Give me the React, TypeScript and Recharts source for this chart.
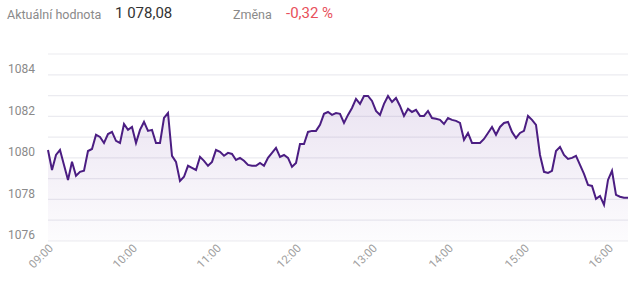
import React from 'react';
import { AreaChart, Area, XAxis, YAxis, CartesianGrid } from 'recharts';

// index value samples across the trading session (09:00 - 16:20)
const values: number[] = [
  1080.38, 1079.42, 1080.14, 1080.38, 1079.66, 1078.94, 1079.81, 1079.14, 1079.33, 1079.38,
  1080.33, 1080.43, 1081.11, 1081.01, 1080.72, 1081.15, 1081.25, 1080.82, 1080.72, 1081.63,
  1081.35, 1081.49, 1080.72, 1081.35, 1081.73, 1081.30, 1081.35, 1080.72, 1080.72, 1081.92,
  1082.16, 1080.10, 1079.81, 1078.89, 1079.09, 1079.62, 1079.52, 1079.42, 1080.05, 1079.86,
  1079.62, 1079.81, 1080.38, 1080.29, 1080.10, 1080.24, 1080.19, 1079.90, 1080.00, 1079.86,
  1079.66, 1079.62, 1079.62, 1079.76, 1079.62, 1080.00, 1080.24, 1080.48, 1080.05, 1080.14,
  1080.00, 1079.57, 1079.76, 1080.67, 1080.67, 1081.25, 1081.30, 1081.30, 1081.59, 1082.12,
  1082.21, 1082.07, 1082.16, 1082.12, 1081.68, 1082.07, 1082.40, 1082.84, 1082.60, 1082.98,
  1082.98, 1082.74, 1082.26, 1082.07, 1082.60, 1082.98, 1082.69, 1082.88, 1082.50, 1082.02,
  1082.36, 1082.21, 1082.31, 1082.02, 1082.02, 1082.26, 1081.92, 1081.88, 1081.83, 1081.63,
  1081.92, 1081.83, 1081.78, 1081.68, 1080.87, 1081.20, 1080.72, 1080.72, 1080.72, 1080.91,
  1081.20, 1081.49, 1081.11, 1081.49, 1081.68, 1081.73, 1081.25, 1080.96, 1081.20, 1081.30,
  1082.02, 1081.83, 1081.59, 1080.14, 1079.33, 1079.28, 1079.38, 1080.33, 1080.53, 1080.14,
  1079.95, 1080.00, 1080.10, 1079.66, 1079.23, 1078.70, 1078.65, 1078.03, 1078.17, 1077.74,
  1078.94, 1079.38, 1078.22, 1078.13, 1078.08, 1078.08,
];

const hourTickIndex: number[] = [0, 21, 42, 62, 81, 100, 119, 140];
const hourLabels: string[] = ['09:00', '10:00', '11:00', '12:00', '13:00', '14:00', '15:00', '16:00'];

const yGridTicks: number[] = [1076, 1077, 1078, 1079, 1080, 1081, 1082, 1083, 1084, 1085];
const yLabelTicks: number[] = [1076, 1078, 1080, 1082, 1084];

const currentValueLabel = 'Aktuální hodnota';
const currentValue = '1 078,08';
const changeLabel = 'Změna';
const changeValue = '-0,32 %';

const data = values.map((v, i) => ({ i, v }));

const FONT = 'Roboto, "Noto Sans", Arial, sans-serif';

const YTick = (props: any) => {
  const { y, payload } = props;
  if (!yLabelTicks.includes(payload.value)) return <g />;
  return (
    <text x={8} y={y - 6} dy="0.35em" fill="#8a8a8a" fontSize={12} fontFamily={FONT} textAnchor="start">
      {payload.value}
    </text>
  );
};

const XTick = (props: any) => {
  const { x, y, payload } = props;
  const k = hourTickIndex.indexOf(payload.value);
  const label = k >= 0 ? hourLabels[k] : '';
  const tx = x + 3;
  const ty = y - 3;
  return (
    <text
      x={tx}
      y={ty}
      dy="0.35em"
      transform={`rotate(-45 ${tx} ${ty})`}
      textAnchor="end"
      fill="#a0a0a0"
      fontSize={11.5}
      fontFamily={FONT}
    >
      {label}
    </text>
  );
};

export default function App() {
  return (
    <div
      style={{
        position: 'absolute',
        left: 0,
        top: 0,
        width: 640,
        height: 294,
        background: '#fff',
        fontFamily: FONT,
        overflow: 'hidden',
      }}
    >
      <span style={{ position: 'absolute', left: 7, top: 7, fontSize: 12.5, color: '#8a8a8a', whiteSpace: 'nowrap' }}>
        {currentValueLabel}
      </span>
      <span style={{ position: 'absolute', left: 115, top: 4, fontSize: 15, color: '#333', whiteSpace: 'nowrap' }}>
        {currentValue}
      </span>
      <span style={{ position: 'absolute', left: 233, top: 7, fontSize: 12.5, color: '#8a8a8a', whiteSpace: 'nowrap' }}>
        {changeLabel}
      </span>
      <span style={{ position: 'absolute', left: 286, top: 4, fontSize: 15, color: '#e8505b', whiteSpace: 'nowrap' }}>
        {changeValue}
      </span>
      <div style={{ position: 'absolute', left: 0, top: 0 }}>
        <AreaChart width={640} height={294} data={data} margin={{ top: 54, right: 12, left: 0, bottom: 0 }}>
          <defs>
            <linearGradient id="fillGrad" x1="0" y1="0" x2="0" y2="1">
              <stop offset="0%" stopColor="#7b4fa8" stopOpacity={0.26} />
              <stop offset="100%" stopColor="#7b4fa8" stopOpacity={0.03} />
            </linearGradient>
          </defs>
          <CartesianGrid vertical={false} stroke="#ebebf0" strokeWidth={1.2} />
          <XAxis
            dataKey="i"
            type="number"
            domain={[0, values.length - 1]}
            ticks={hourTickIndex}
            interval={0}
            axisLine={false}
            tickLine={false}
            tick={<XTick />}
            height={53}
          />
          <YAxis
            type="number"
            domain={[1076, 1085]}
            ticks={yGridTicks}
            interval={0}
            axisLine={false}
            tickLine={false}
            tick={<YTick />}
            width={48}
          />
          <Area
            type="linear"
            dataKey="v"
            stroke="#4b1d82"
            strokeWidth={2}
            fill="url(#fillGrad)"
            isAnimationActive={false}
            dot={false}
            activeDot={false}
          />
        </AreaChart>
      </div>
    </div>
  );
}
